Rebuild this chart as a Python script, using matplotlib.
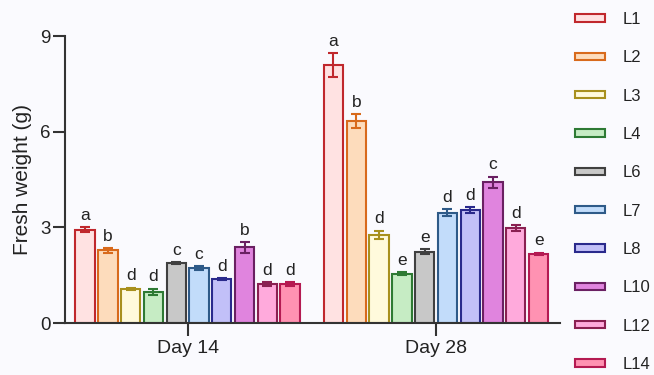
import matplotlib
matplotlib.use("Agg")
import matplotlib.pyplot as plt
import matplotlib.patches as mpatches
import numpy as np

plt.rcParams['font.family'] = ['Liberation Sans', 'DejaVu Sans']

lines = ["L1", "L2", "L3", "L4", "L6", "L7", "L8", "L10", "L12", "L14"]
days = ["Day 14", "Day 28"]

day14_mean = [2.93, 2.28, 1.07, 0.98, 1.88, 1.72, 1.38, 2.38, 1.22, 1.22]
day14_err = [0.09, 0.07, 0.04, 0.1, 0.04, 0.06, 0.04, 0.17, 0.06, 0.06]
day14_sig = ["a", "b", "d", "d", "c", "c", "d", "b", "d", "d"]

day28_mean = [8.09, 6.34, 2.77, 1.55, 2.24, 3.45, 3.54, 4.41, 2.97, 2.17]
day28_err = [0.38, 0.22, 0.13, 0.05, 0.08, 0.11, 0.1, 0.18, 0.1, 0.04]
day28_sig = ["a", "b", "d", "e", "e", "d", "d", "c", "d", "e"]

face_colors = ["#ffe2e2", "#fddcbc", "#fffadc", "#c6ecc4", "#c8c8c8",
               "#c2dcfa", "#c2c0f8", "#e084de", "#ffaadc", "#ff92b2"]
edge_colors = ["#c0282d", "#d86a1c", "#a8901e", "#2e7a34", "#404040",
               "#2e5a88", "#2a2a8c", "#6a2062", "#8a2052", "#b41a52"]

bg = "#fafafe"
spine_c = "#333333"
text_c = "#222222"

fig = plt.figure(figsize=(6.54, 3.75), dpi=100, facecolor=bg)
ax = fig.add_axes([65/654, 52/375, 495/654, 287/375], facecolor=bg)

group_centers = [0, 10.9]
offsets = np.arange(len(lines)) - 4.5
bw = 0.85

for g, (means, errs, sigs) in enumerate([(day14_mean, day14_err, day14_sig),
                                          (day28_mean, day28_err, day28_sig)]):
    xs = group_centers[g] + offsets
    for i in range(len(lines)):
        ax.bar(xs[i], means[i], width=bw, color=face_colors[i],
               edgecolor=edge_colors[i], linewidth=1.5, zorder=2)
        ax.errorbar(xs[i], means[i], yerr=errs[i], fmt="none",
                    ecolor=edge_colors[i], elinewidth=1.5, capsize=3.6,
                    capthick=1.5, zorder=3)
        ax.annotate(sigs[i], (xs[i], means[i] + errs[i]), xytext=(0, 3),
                    textcoords="offset points", ha="center", va="bottom",
                    fontsize=12.5, color=text_c)

ax.set_xlim(-5.38, 16.34)
ax.set_ylim(0, 9)
ax.set_yticks([0, 3, 6, 9])
ax.set_xticks(group_centers)
ax.set_xticklabels(days)
ax.set_ylabel("Fresh weight (g)", fontsize=15, color=text_c, labelpad=6)

for s in ["top", "right"]:
    ax.spines[s].set_visible(False)
for s in ["left", "bottom"]:
    ax.spines[s].set_color(spine_c)
    ax.spines[s].set_linewidth(1.5)
ax.tick_params(axis="y", length=9, width=1.5, color=spine_c, labelsize=13.5,
               labelcolor=text_c, pad=1.5)
ax.tick_params(axis="x", length=9, width=1.5, color=spine_c, labelsize=14,
               labelcolor=text_c, pad=3)

handles = [mpatches.Patch(facecolor=face_colors[i], edgecolor=edge_colors[i],
                          linewidth=1.5, label=lines[i]) for i in range(len(lines))]
fig.legend(handles=handles, loc="upper left", bbox_to_anchor=(575/654, 1 - 12/375),
           frameon=False, fontsize=12, borderpad=0, borderaxespad=0,
           labelspacing=1.40, handlelength=1.8, handleheight=0.3,
           handletextpad=1.08, labelcolor=text_c)

fig.savefig("out.png", dpi=100, facecolor=bg)
